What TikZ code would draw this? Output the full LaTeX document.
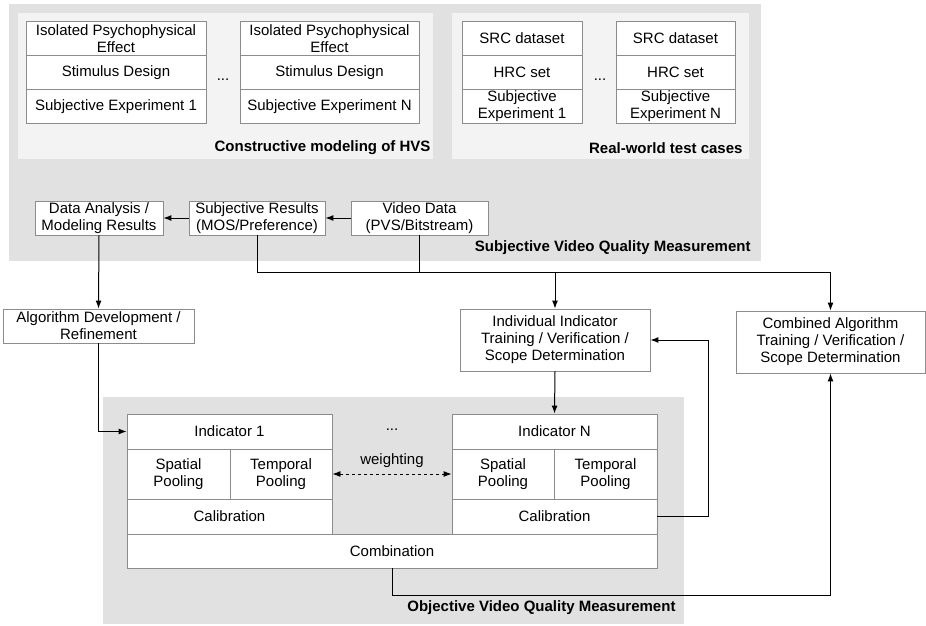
\documentclass[tikz,border=0pt]{standalone}
\usepackage{fontspec}
\setmainfont{Liberation Sans}
\usetikzlibrary{arrows.meta,calc}

\definecolor{outergray}{RGB}{225,225,225}
\definecolor{innergray}{RGB}{243,243,243}
\definecolor{boxgray}{RGB}{140,140,140}

\tikzset{
  cell/.style={draw=boxgray, line width=0.9pt, fill=white, inner sep=0pt, align=center,
    minimum height=34pt, font=\fontsize{15}{17}\selectfont},
  grouplabel/.style={anchor=east, inner sep=0pt, font=\fontsize{15}{17}\selectfont\bfseries},
  dots/.style={inner sep=0pt, font=\fontsize{15}{17}\selectfont}
}

\begin{document}
\begin{tikzpicture}[x=1pt, y=-1pt, >={Latex[length=8pt,width=6pt]}, line width=1pt]
    \useasboundingbox (0,0) rectangle (926,626);

    % Draw the grey areas
    \fill[outergray] (9,4) rectangle (761,261);
    \fill[innergray] (18,13) rectangle (433,159);
    \fill[innergray] (452,13) rectangle (749,159);
    \fill[outergray] (103,397) rectangle (684,624);

    % Constructive modeling of HVS
    \node[cell, minimum width=180pt] (iso1) at (116,38.5) {Isolated Psychophysical\\Effect};
    \node[cell, minimum width=180pt] (stim1) at (116,72.5) {Stimulus Design};
    \node[cell, minimum width=180pt] (exp1) at (116,106.5) {Subjective Experiment 1};
    \node[cell, minimum width=179pt] (isoN) at (329.5,38.5) {Isolated Psychophysical\\Effect};
    \node[cell, minimum width=179pt] (stimN) at (329.5,72.5) {Stimulus Design};
    \node[cell, minimum width=179pt] (expN) at (329.5,106.5) {Subjective Experiment N};
    \node[dots] (dotsA) at (223,80) {...};
    \node[grouplabel] (hvs) at (431,148) {Constructive modeling of HVS};

    % Real-world test cases
    \node[cell, minimum width=120pt] (src1) at (522,38.5) {SRC dataset};
    \node[cell, minimum width=120pt] (hrc1) at (522,72.5) {HRC set};
    \node[cell, minimum width=120pt] (rexp1) at (522,106.5) {Subjective\\Experiment 1};
    \node[cell, minimum width=119pt] (srcN) at (675.5,38.5) {SRC dataset};
    \node[cell, minimum width=119pt] (hrcN) at (675.5,72.5) {HRC set};
    \node[cell, minimum width=119pt] (rexpN) at (675.5,106.5) {Subjective\\Experiment N};
    \node[dots] (dotsB) at (600,80) {...};
    \node[grouplabel] (real) at (743,148) {Real-world test cases};

    % Subjective measurement chain
    \node[cell, minimum width=128pt] (data) at (99,218) {Data Analysis /\\Modeling Results};
    \node[cell, minimum width=136pt] (subj) at (257,218) {Subjective Results\\(MOS/Preference)};
    \node[cell, minimum width=137pt] (video) at (419.5,218) {Video Data\\(PVS/Bitstream)};
    \node[grouplabel] (subjlabel) at (751,248) {Subjective Video Quality Measurement};

    % Training and development boxes
    \node[cell, minimum width=191pt] (alg) at (98.5,326) {Algorithm Development /\\Refinement};
    \node[cell, minimum width=190pt, minimum height=62pt] (indiv) at (555,340) {Individual Indicator\\Training / Verification /\\Scope Determination};
    \node[cell, minimum width=189pt, minimum height=62pt] (comb) at (830.5,342) {Combined Algorithm\\Training / Verification /\\Scope Determination};

    % Indicator 1
    \node[cell, minimum width=205pt, minimum height=35pt] (ind1) at (229.5,431.5) {Indicator 1};
    \node[cell, minimum width=103pt, minimum height=50pt] (spat1) at (178.5,474) {Spatial\\Pooling};
    \node[cell, minimum width=102pt, minimum height=50pt] (temp1) at (281,474) {Temporal\\Pooling};
    \node[cell, minimum width=205pt, minimum height=35pt] (cal1) at (229.5,516.5) {Calibration};

    % Indicator N
    \node[cell, minimum width=205pt, minimum height=35pt] (indN) at (554.5,431.5) {Indicator N};
    \node[cell, minimum width=102pt, minimum height=50pt] (spatN) at (503,474) {Spatial\\Pooling};
    \node[cell, minimum width=103pt, minimum height=50pt] (tempN) at (605.5,474) {Temporal\\Pooling};
    \node[cell, minimum width=205pt, minimum height=35pt] (calN) at (554.5,516.5) {Calibration};

    \node[dots] (dotsC) at (392,430) {...};
    \node[cell, minimum width=530pt] (combi) at (392,551) {Combination};
    \node[grouplabel] (objlabel) at (676,608) {Objective Video Quality Measurement};

    % Connectors
    \coordinate (bus) at (0,272);
    \draw[->] (video.west) -- (subj.east);
    \draw[->] (subj.west) -- (data.east);
    \draw[->] (data.south) -- (alg.north);
    \draw[->] (alg.south) |- (ind1.west);
    \draw[->] (subj.south) -- (subj.south |- bus) -| (indiv.north);
    \draw[->] (video.south) -- (video.south |- bus) -| (comb.north);
    \draw[->] (indiv.south) -- (indN.north);
    \draw[->] (calN.east) -- ++(51,0) |- (indiv.east);
    \draw[->] (combi.south) -- ++(0,27) -| (comb.south);

    % Weighting between indicators
    \draw[<->, dashed, line width=0.9pt] (temp1.east) -- (spatN.west)
        node[midway, above=3pt, font=\fontsize{15}{17}\selectfont] (weight) {weighting};
\end{tikzpicture}
\end{document}
